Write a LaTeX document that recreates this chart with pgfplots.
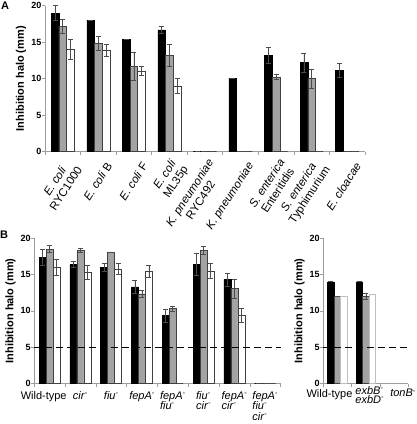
\documentclass[border=0pt]{standalone}
\usepackage{fontspec}
\setmainfont{Liberation Sans}
\usepackage{pgfplots}
\pgfplotsset{compat=1.18}
\definecolor{bargray}{HTML}{A3A3A3}
\definecolor{axgray}{HTML}{9C9C9C}
\pgfplotsset{
  halo/.style={
    scale only axis, ybar, ymin=0, ymax=20, ytick={0,5,10,15,20},
    minor ytick={0,5,10,15,20},
    axis lines*=left,
    axis line style={draw=axgray, line width=0.7pt},
    tick style={draw=axgray, line width=0.6pt},
    tick align=outside, major tick length=0pt, minor tick length=3pt,
    yticklabel style={font=\bfseries\fontsize{9}{9}\selectfont, inner sep=1.5pt, xshift=-2pt},
    /pgf/number format/assume math mode=true,
    ylabel={Inhibition halo (mm)},
    ylabel style={font=\bfseries\fontsize{11}{12}\selectfont},
    clip=false,
  },
  eb/.style={
    error bars/y dir=both, error bars/y explicit,
    error bars/error bar style={black!70, line width=0.6pt},
    error bars/error mark options={rotate=90, black!70, mark size=2.5pt, line width=0.6pt},
  },
  bk/.style={fill=black, draw=black, line width=0.5pt, eb},
  gy/.style={fill=bargray, draw=black!75, line width=0.5pt, eb},
  wh/.style={fill=white, draw=black!75, line width=0.5pt, eb},
}
\newcommand{\mn}{\textsuperscript{-}}
\begin{document}
\begin{tikzpicture}[x=1pt,y=1pt]
\useasboundingbox (0,0) rectangle (416,424);
\node[font=\bfseries\fontsize{11}{11}\selectfont, anchor=north west, inner sep=0pt] at (1,422) {A};
\node[font=\bfseries\fontsize{11}{11}\selectfont, anchor=north west, inner sep=0pt] at (0,193) {B};

% Panel A (labels sit at the group centre + 0.31, where the rotated text ends)
\begin{axis}[halo, at={(45pt,272.3pt)}, anchor=south west, width=320pt, height=146pt,
  xmin=-0.5, xmax=8.5, xtick={0.31,1.31,2.31,3.31,4.31,5.31,6.31,7.31,8.31},
  minor xtick={-0.5,0.5,1.5,2.5,3.5,4.5,5.5,6.5,7.5,8.5},
  bar width=0.217,
  xticklabels={{\textit{E. coli}\\RYC1000},{\textit{E. coli} B},{\textit{E. coli} F},{\textit{E. coli}\\ML35p},{\textit{K. pneumoniae}\\RYC492},{\textit{K. pneumoniae}},{\textit{S. enterica}\\Enteritidis},{\textit{S. enterica}\\Typhimurium},{\textit{E. cloacae}}},
  xticklabel shift=12pt,
  xticklabel style={rotate=57, anchor=east, inner sep=0pt, align=center, font=\fontsize{11.5}{13}\selectfont},
]
\addplot[bk, bar shift=-0.217] coordinates {(0,19.0) +- (0,1.0) (1,18.0) +- (0,0) (2,15.4) +- (0,0) (3,16.7) +- (0,0.45) (4,0) +- (0,0) (5,10.0) +- (0,0) (6,13.15) +- (0,1.1) (7,12.2) +- (0,1.3) (8,11.15) +- (0,0.95)};
\addplot[gy, bar shift=0] coordinates {(0,17.2) +- (0,1.0) (1,14.85) +- (0,0.9) (2,11.65) +- (0,1.9) (3,13.2) +- (0,1.5) (4,0) +- (0,0) (5,0) +- (0,0) (6,10.2) +- (0,0.35) (7,10.0) +- (0,1.3) (8,0) +- (0,0)};
\addplot[wh, bar shift=0.217] coordinates {(0,14.0) +- (0,1.4) (1,13.85) +- (0,0.85) (2,11.05) +- (0,0.6) (3,9.0) +- (0,1.0) (4,0) +- (0,0) (5,0) +- (0,0) (6,0) +- (0,0) (7,0) +- (0,0) (8,0) +- (0,0)};
\end{axis}

% Panel B left
\begin{axis}[halo, at={(34.3pt,40.3pt)}, anchor=south west, width=246.4pt, height=145.6pt,
  xmin=-0.5, xmax=7.5, xtick={0,1,2,3,4,5,6,7},
  minor xtick={-0.5,0.5,1.5,2.5,3.5,4.5,5.5,6.5,7.5},
  bar width=0.227,
  xticklabels={{\hspace*{-12pt}Wild-type},{\textit{cir}\mn},{\textit{fiu}\mn},{\textit{fepA}\mn},{\textit{fepA}\mn\\\textit{fiu}\mn},{\textit{fiu}\mn\\\textit{cir}\mn},{\textit{fepA}\mn\\\textit{cir}\mn},{\textit{fepA}\mn\\\textit{fiu}\mn\\\textit{cir}\mn}},
  xticklabel style={anchor=north, align=left, yshift=-4pt, font=\fontsize{11}{10.7}\selectfont},
]
\addplot[bk, bar shift=-0.232] coordinates {(0,17.35) +- (0,1.1) (1,16.35) +- (0,0.4) (2,16.0) +- (0,0.6) (3,13.3) +- (0,0.9) (4,9.35) +- (0,0.9) (5,16.4) +- (0,1.5) (6,14.33) +- (0,0.9) (7,0) +- (0,0)};
\addplot[gy, bar shift=-0.005] coordinates {(0,18.5) +- (0,0.5) (1,18.3) +- (0,0.3) (2,18.05) +- (0,0) (3,12.35) +- (0,0.45) (4,10.3) +- (0,0.4) (5,18.35) +- (0,0.55) (6,13.05) +- (0,1.3) (7,0) +- (0,0)};
\addplot[wh, bar shift=0.222] coordinates {(0,16.0) +- (0,1.05) (1,15.3) +- (0,0.9) (2,15.75) +- (0,0.75) (3,15.4) +- (0,0.85) (4,0) +- (0,0) (5,15.5) +- (0,1.0) (6,9.4) +- (0,0.9) (7,0) +- (0,0)};
\addplot[sharp plot, black, line width=1.2pt, dash pattern=on 7pt off 4pt] coordinates {(-0.5,5) (7.5,5)};
\end{axis}

% Panel B right
\begin{axis}[halo, at={(323.3pt,40.3pt)}, anchor=south west, width=85pt, height=145.6pt,
  xmin=-0.5, xmax=2.5, xtick={0,1,2},
  minor xtick={-0.5,0.5,1.5,2.5},
  bar width=0.23,
  xticklabels={{\hspace*{-16pt}Wild-type},{\hspace*{8pt}\textit{exbB}\mn\\\hspace*{8pt}\textit{exbD}\mn},{\hspace*{18pt}\raisebox{3pt}{\textit{tonB}\mn}}},
  xticklabel style={anchor=center, align=left, font=\fontsize{11}{8}\selectfont, yshift=-11pt},
]
\addplot[bk, bar shift=-0.23] coordinates {(0,14.0) +- (0,0) (1,14.0) +- (0,0)};
\addplot[gy, bar shift=0] coordinates {(0,12.0) +- (0,0) (1,12.0) +- (0,0.35)};
\addplot[fill=white, draw=black!25, line width=0.5pt, bar shift=0.23] coordinates {(0,12.0) (1,12.3)};
\addplot[sharp plot, black, line width=1.2pt, dash pattern=on 7pt off 4pt] coordinates {(-0.5,5) (2.5,5)};
\end{axis}
\end{tikzpicture}
\end{document}
